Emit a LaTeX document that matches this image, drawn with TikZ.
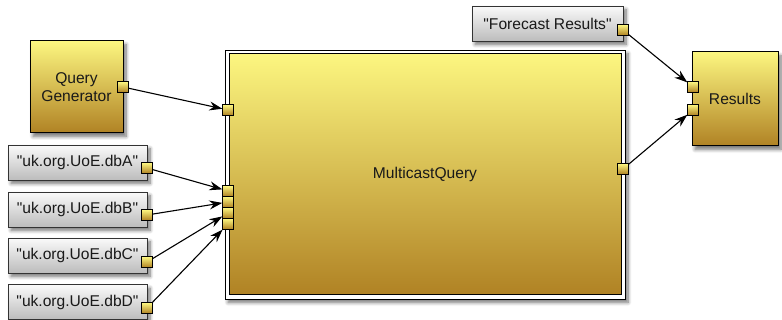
\documentclass[tikz,border=0pt]{standalone}
\usepackage{fontspec}
\setmainfont{Liberation Sans}
\usetikzlibrary{arrows.meta,shadows.blur}
\definecolor{goldtop}{RGB}{252,246,128}
\definecolor{goldbot}{RGB}{176,130,36}
\definecolor{greytop}{RGB}{250,250,250}
\definecolor{greybot}{RGB}{188,188,188}
\definecolor{txt}{RGB}{25,25,25}
\newcommand{\qt}[1]{\textquotedbl#1\textquotedbl}
\tikzset{
  softshadow/.style={blur shadow={shadow xshift=3pt, shadow yshift=-3.5pt, shadow blur steps=8, shadow blur radius=3.5pt, shadow opacity=55}},
  boxfont/.style={font=\fontsize{15.6}{18}\selectfont},
  goldbox/.style={draw=black, line width=1pt, top color=goldtop, bottom color=goldbot,
    inner sep=0pt, align=center, text=txt, boxfont, softshadow},
  greybox/.style={draw=black!80, line width=0.8pt, top color=greytop, bottom color=greybot,
    inner sep=0pt, text=txt, boxfont, softshadow},
  port/.style={draw=black, line width=0.8pt, minimum size=10.5pt, inner sep=0pt,
    top color=goldtop, bottom color=goldbot},
  wire/.style={line width=1.1pt, -{Stealth[length=13pt,width=9pt]}}
}
\begin{document}
\begin{tikzpicture}[x=1pt, y=-1pt]
\useasboundingbox (0,0) rectangle (782,320);

% source boxes
\node[goldbox, minimum width=93pt, minimum height=92pt] (qg) at (76.5,87) {Query\\Generator};
\node[greybox, minimum width=139pt, minimum height=35pt] (dba) at (77.5,162.5) {\qt{uk.org.UoE.dbA}};
\node[greybox, minimum width=139pt, minimum height=35pt] (dbb) at (77.5,209.5) {\qt{uk.org.UoE.dbB}};
\node[greybox, minimum width=139pt, minimum height=35pt] (dbc) at (77.5,255.5) {\qt{uk.org.UoE.dbC}};
\node[greybox, minimum width=139pt, minimum height=35pt] (dbd) at (77.5,302) {\qt{uk.org.UoE.dbD}};
\node[greybox, minimum width=151pt, minimum height=35pt] (fr) at (547.5,23.5) {\qt{Forecast Results}};

% composite block with its white frame
\node[draw=black, line width=0.8pt, fill=white, minimum width=400pt, minimum height=249pt, softshadow] (mcframe) at (425,174.5) {};
\node[draw=black, line width=1pt, top color=goldtop, bottom color=goldbot, inner sep=0pt,
  text=txt, boxfont, minimum width=392pt, minimum height=241pt] (mc) at (425,174.5) {MulticastQuery};

% sink
\node[goldbox, minimum width=86pt, minimum height=94pt] (res) at (735,99) {Results};

% ports
\node[port] (qgo) at (123,87) {};
\node[port] (dbao) at (147,168) {};
\node[port] (dbbo) at (147,215) {};
\node[port] (dbco) at (147,262) {};
\node[port] (dbdo) at (147,308) {};
\node[port] (fro) at (623,30) {};
\node[port] (mci1) at (228,110) {};
\node[port] (mci2) at (228,191) {};
\node[port] (mci3) at (228,202) {};
\node[port] (mci4) at (228,213) {};
\node[port] (mci5) at (228,224) {};
\node[port] (mco) at (623,169) {};
\node[port] (resi1) at (693,87) {};
\node[port] (resi2) at (693,110) {};

% connections
\draw[wire] (qgo) -- (mci1);
\draw[wire] (dbao) -- (mci2);
\draw[wire] (dbbo) -- (mci3);
\draw[wire] (dbco) -- (mci4);
\draw[wire] (dbdo) -- (mci5);
\draw[wire] (fro) -- (resi1);
\draw[wire] (mco) -- (resi2);
\end{tikzpicture}
\end{document}
